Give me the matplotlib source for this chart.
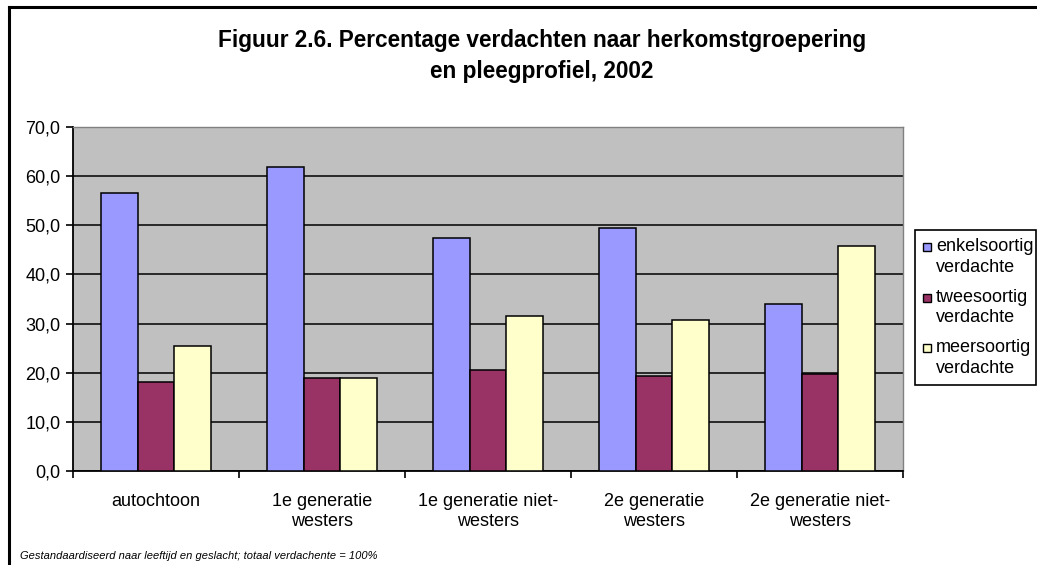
import numpy as np
import matplotlib.pyplot as plt
from matplotlib.patches import Rectangle
from matplotlib.lines import Line2D

plt.rcParams['font.family'] = ['Liberation Sans', 'DejaVu Sans']

# Data
categories = ['autochtoon', '1e generatie\nwesters', '1e generatie niet-\nwesters',
              '2e generatie\nwesters', '2e generatie niet-\nwesters']
series_names = ['enkelsoortig\nverdachte', 'tweesoortig\nverdachte', 'meersoortig\nverdachte']
enkelsoortig = [56.5, 61.8, 47.5, 49.5, 34.0]
tweesoortig = [18.1, 18.9, 20.6, 19.3, 19.8]
meersoortig = [25.5, 18.9, 31.6, 30.8, 45.8]
colors = ['#9999FF', '#993366', '#FFFFCC']

W, H = 1037, 565
fig = plt.figure(figsize=(W / 100, H / 100), dpi=100)
ax = fig.add_axes([73 / W, 1 - 471 / H, 830 / W, 344 / H])
ax.set_facecolor('#C0C0C0')

x = np.arange(len(categories))
w = 1 / 4.5
for i, (vals, c) in enumerate(zip([enkelsoortig, tweesoortig, meersoortig], colors)):
    ax.bar(x + (i - 1) * w, vals, width=w, color=c, edgecolor='black', linewidth=1.1, zorder=3)

ax.set_xlim(-0.5, len(categories) - 0.5)
ax.set_ylim(0, 70)
ax.set_yticks(np.arange(0, 71, 10))
ax.set_yticklabels([f'{v:.1f}'.replace('.', ',') for v in np.arange(0, 71, 10)], fontsize=13)
ax.yaxis.grid(True, color='black', linewidth=1.1, zorder=1)
ax.set_axisbelow(True)

# category ticks at boundaries, labels centered
ax.set_xticks(np.arange(-0.5, len(categories), 1.0))
ax.set_xticklabels([])
ax.tick_params(axis='x', length=5, width=1.2, color='black')
ax.tick_params(axis='y', length=5, width=1.2, color='black', pad=4)
for xi, lab in zip(x, categories):
    ax.text(xi, -4.5, lab, ha='center', va='top', fontsize=13, linespacing=1.2)

for s in ['top', 'right']:
    ax.spines[s].set_color('#808080')
    ax.spines[s].set_linewidth(1.0)
for s in ['left', 'bottom']:
    ax.spines[s].set_color('black')
    ax.spines[s].set_linewidth(1.3)

fig.text(542 / W, 1 - 56 / H, 'Figuur 2.6. Percentage verdachten naar herkomstgroepering\nen pleegprofiel, 2002',
         ha='center', va='center', fontsize=16.3, fontweight='bold', linespacing=1.4)

# legend, drawn by hand so the swatches sit on the first text line
fig.add_artist(Rectangle((915 / W, 1 - 385 / H), 121 / W, 155 / H, transform=fig.transFigure,
                         facecolor='white', edgecolor='black', linewidth=1.2))
for k, (name, c) in enumerate(zip(series_names, colors)):
    ytop = 238 + k * 50.5
    yc = ytop + 9
    fig.add_artist(Rectangle((922.5 / W, 1 - (yc + 4) / H), 8 / W, 8 / H, transform=fig.transFigure,
                             facecolor=c, edgecolor='black', linewidth=1.0))
    fig.text(936 / W, 1 - ytop / H, name, ha='left', va='top', fontsize=13, linespacing=1.3)

fig.text(20 / W, 1 - 556 / H, 'Gestandaardiseerd naar leeftijd en geslacht; totaal verdachente = 100%',
         fontsize=8, style='italic', ha='left', va='center')

# outer chart frame (only left and top visible)
fig.add_artist(Line2D([9 / W, 9 / W], [0, 1 - 7 / H], color='black', linewidth=2.2, transform=fig.transFigure))
fig.add_artist(Line2D([9 / W, 1.0], [1 - 7 / H, 1 - 7 / H], color='black', linewidth=2.2, transform=fig.transFigure))

fig.savefig('out.png', dpi=100)
